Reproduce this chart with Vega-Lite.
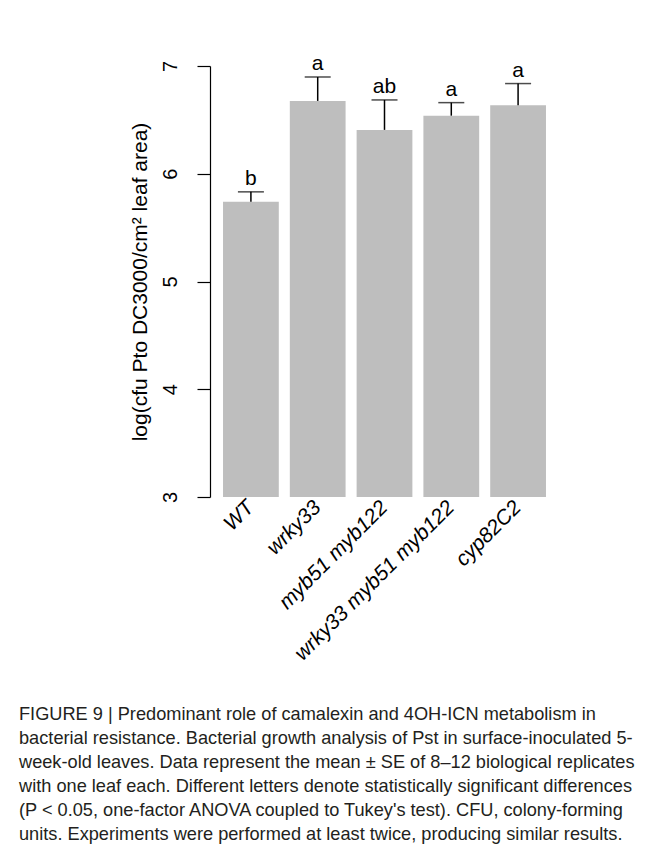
{
  "$schema": "https://vega.github.io/schema/vega-lite/v6.json",
  "autosize": {"type": "none"},
  "width": 349,
  "height": 431,
  "padding": {"left": 210, "top": 66, "right": 89, "bottom": 365},
  "background": "white",
  "data": {
    "values": [
      {"genotype": "WT", "mean": 5.74, "upper": 5.832, "letter": "b"},
      {"genotype": "wrky33", "mean": 6.676, "upper": 6.898, "letter": "a"},
      {"genotype": "myb51 myb122", "mean": 6.407, "upper": 6.685, "letter": "ab"},
      {"genotype": "wrky33 myb51 myb122", "mean": 6.539, "upper": 6.66, "letter": "a"},
      {"genotype": "cyp82C2", "mean": 6.636, "upper": 6.837, "letter": "a"}
    ]
  },
  "title": {
    "text": [
      "FIGURE 9 | Predominant role of camalexin and 4OH-ICN metabolism in",
      "bacterial resistance. Bacterial growth analysis of Pst in surface-inoculated 5-",
      "week-old leaves. Data represent the mean ± SE of 8–12 biological replicates",
      "with one leaf each. Different letters denote statistically significant differences",
      "(P < 0.05, one-factor ANOVA coupled to Tukey's test). CFU, colony-forming",
      "units. Experiments were performed at least twice, producing similar results."
    ],
    "orient": "bottom",
    "anchor": "start",
    "frame": "group",
    "align": "left",
    "dx": -191,
    "offset": 42,
    "font": "Liberation Sans",
    "fontSize": 18.2,
    "fontWeight": "normal",
    "lineHeight": 24,
    "color": "#231f20"
  },
  "encoding": {
    "x": {
      "field": "genotype",
      "type": "nominal",
      "sort": null,
      "scale": {"paddingInner": 0.165, "paddingOuter": 0.195},
      "axis": {
        "title": null,
        "domain": false,
        "ticks": false,
        "labelAngle": -45,
        "labelAlign": "right",
        "labelBaseline": "middle",
        "labelPadding": 7,
        "labelLimit": 0,
        "labelFont": "Liberation Sans",
        "labelFontStyle": "italic",
        "labelFontSize": 21,
        "labelColor": "black"
      }
    }
  },
  "layer": [
    {
      "mark": {"type": "bar", "color": "#bebebe"},
      "encoding": {
        "y": {
          "field": "mean",
          "type": "quantitative",
          "scale": {"domain": [3, 7], "nice": false, "zero": false},
          "axis": {
            "title": "log(cfu Pto DC3000/cm² leaf area)",
            "titleFont": "Liberation Sans",
            "titleFontSize": 21,
            "titleFontWeight": "normal",
            "titleColor": "black",
            "titlePadding": 10,
            "values": [3, 4, 5, 6, 7],
            "format": "d",
            "grid": false,
            "domainColor": "black",
            "domainWidth": 1.2,
            "tickColor": "black",
            "tickWidth": 1.2,
            "tickSize": 13,
            "labelAngle": -90,
            "labelAlign": "center",
            "labelBaseline": "bottom",
            "labelPadding": 17,
            "labelFont": "Liberation Sans",
            "labelFontSize": 20,
            "labelColor": "black"
          }
        },
        "y2": {"datum": 3}
      }
    },
    {
      "mark": {"type": "rule", "color": "black", "strokeWidth": 1.5},
      "encoding": {
        "y": {"field": "mean", "type": "quantitative"},
        "y2": {"field": "upper"}
      }
    },
    {
      "mark": {"type": "tick", "color": "black", "size": 26, "thickness": 1.5, "orient": "horizontal"},
      "encoding": {
        "y": {"field": "upper", "type": "quantitative"}
      }
    },
    {
      "mark": {"type": "text", "baseline": "bottom", "dy": -3, "font": "Liberation Sans", "fontSize": 21, "color": "black"},
      "encoding": {
        "y": {"field": "upper", "type": "quantitative"},
        "text": {"field": "letter"}
      }
    }
  ],
  "config": {"view": {"stroke": null}}
}
